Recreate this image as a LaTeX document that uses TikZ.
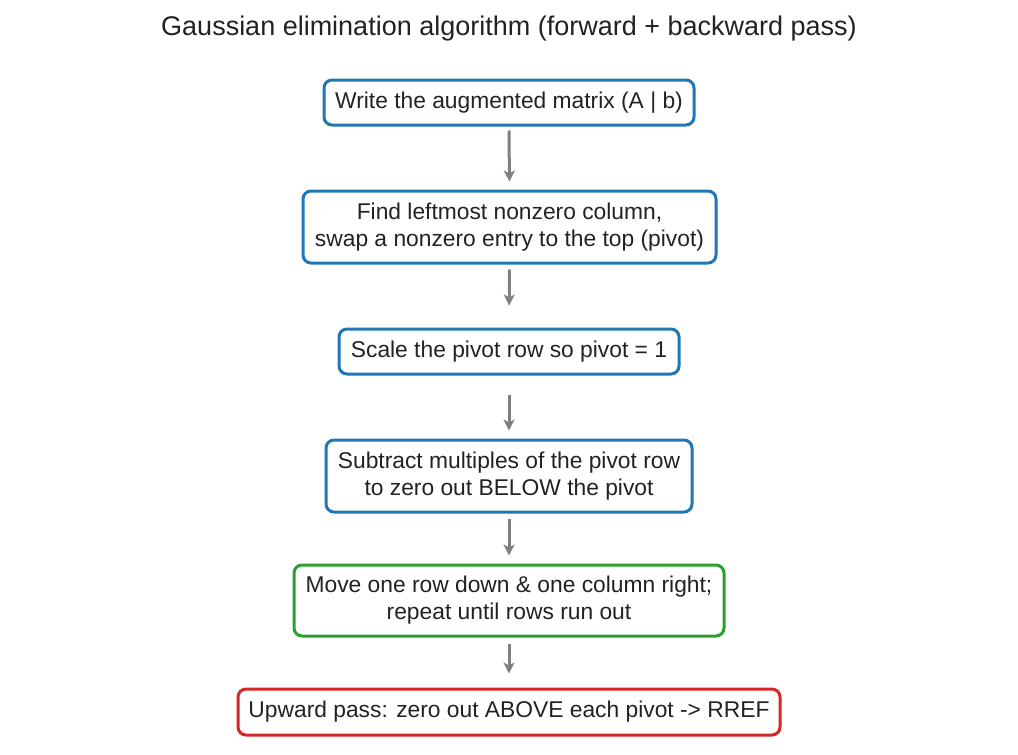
\documentclass[tikz,border=0pt]{standalone}
\usepackage{fontspec}
\setmainfont{Liberation Sans}
\usetikzlibrary{arrows.meta}
\definecolor{cblue}{HTML}{1F77B4}
\definecolor{cgreen}{HTML}{2CA02C}
\definecolor{cred}{HTML}{D62728}
\definecolor{ctext}{HTML}{222222}
\definecolor{carrow}{HTML}{808080}
\begin{document}
\begin{tikzpicture}[x=1pt,y=-1pt,
  stepbox/.style={draw=cblue, line width=3pt, rounded corners=8pt, align=center,
    text=ctext, font=\fontsize{22.8}{27}\selectfont, inner sep=0pt, anchor=center},
  flow/.style={draw=carrow, line width=3pt, -{Stealth[length=11pt,width=11pt,inset=3pt]}}]
\useasboundingbox (0,0) rectangle (1018,755);
\node[text=ctext, font=\fontsize{27}{30}\selectfont] (title) at (509,29) {Gaussian elimination algorithm (forward + backward pass)};
\node[stepbox, minimum width=370pt, minimum height=45pt] (s1) at (509,102.5) {Write the augmented matrix (A | b)};
\node[stepbox, minimum width=413pt, minimum height=72pt] (s2) at (509.5,227) {Find leftmost nonzero column,\\swap a nonzero entry to the top (pivot)};
\node[stepbox, minimum width=340pt, minimum height=45pt] (s3) at (509,351.5) {Scale the pivot row so pivot = 1};
\node[stepbox, minimum width=366pt, minimum height=72pt] (s4) at (509,476) {Subtract multiples of the pivot row\\to zero out BELOW the pivot};
\node[stepbox, draw=cgreen, minimum width=430pt, minimum height=71pt] (s5) at (509,600.5) {Move one row down \& one column right;\\repeat until rows run out};
\node[stepbox, draw=cred, minimum width=542pt, minimum height=46pt] (s6) at (509,712) {Upward pass: zero out ABOVE each pivot -> RREF};
\draw[flow, shorten <=4pt, shorten >=8pt] (s1.south) -- (s2.north);
\draw[flow, shorten <=5pt, shorten >=22pt] (s2.south) -- (s3.north);
\draw[flow, shorten <=19pt, shorten >=8pt] (s3.south) -- (s4.north);
\draw[flow, shorten <=5pt, shorten >=8pt] (s4.south) -- (s5.north);
\draw[flow, shorten <=6pt, shorten >=14pt] (s5.south) -- (s6.north);
\end{tikzpicture}
\end{document}
